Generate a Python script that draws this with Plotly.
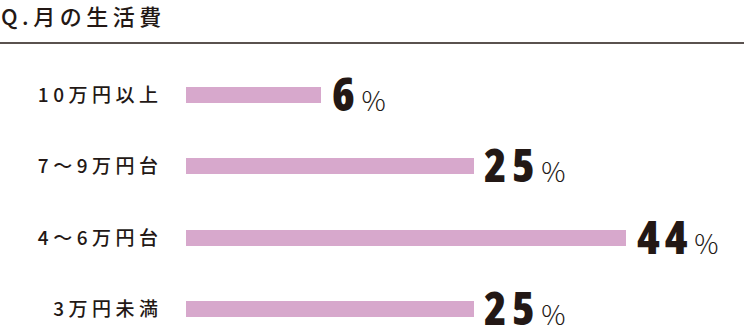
import plotly.graph_objects as go

# Data
categories = ["10万円以上", "7〜9万円台", "4〜6万円台", "3万円未満"]
values = [6, 25, 44, 25]
title_text = "Q.月の生活費"

# Style constants
AXIS_START = -10.86          # value where the bars begin (axis origin in the source)
AXIS_END = 58.72
BAR_COLOR = "#d7a8cc"
INK = "#231815"
W, H = 744, 329

fig = go.Figure()
fig.add_trace(go.Bar(
    y=categories,
    x=[v - AXIS_START for v in values],
    base=AXIS_START,
    orientation="h",
    marker=dict(color=BAR_COLOR, line=dict(width=0)),
    width=0.224,
    hoverinfo="skip",
))

for c, v in zip(categories, values):
    fig.add_annotation(
        x=v, y=c, xref="x", yref="y",
        xanchor="left", yanchor="middle",
        xshift=9, yshift=2,
        showarrow=False,
        text=(f"<span style='font-family:\"Open Sans\";font-stretch:75%;"
              f"font-weight:800;font-size:46px;letter-spacing:5px'>{v}</span>"
              f"<span style='font-family:\"Noto Sans CJK JP\";font-weight:300;font-size:27px'>&#8202;%</span>"),
        font=dict(color=INK, family="Noto Sans CJK JP"),
    )

fig.add_shape(type="line", xref="paper", yref="paper",
              x0=0, x1=1, y0=(H - 43) / (H - 50), y1=(H - 43) / (H - 50),
              line=dict(color=INK, width=1.6))

fig.update_layout(
    width=W, height=H,
    margin=dict(l=0, r=0, t=50, b=0),
    paper_bgcolor="white", plot_bgcolor="white",
    showlegend=False,
    bargap=0,
    title=dict(
        text=f"<span style='letter-spacing:4.5px'>{title_text}</span>",
        x=0, xref="paper", xanchor="left",
        y=1 - 17 / H, yref="container", yanchor="middle",
        font=dict(family="Noto Sans CJK JP", size=22, color=INK, weight=500),
        pad=dict(l=1),
    ),
    xaxis=dict(
        domain=[185.5 / W, 1],
        range=[AXIS_START, AXIS_END],
        visible=False, fixedrange=True,
    ),
    yaxis=dict(
        categoryorder="array", categoryarray=categories,
        range=[3.273, -0.629],
        showgrid=False, zeroline=False, showline=False,
        ticks="", ticklabelstandoff=22,
        tickfont=dict(family="Noto Sans CJK JP", size=19, color=INK, weight=500),
        tickmode="array", tickvals=categories,
        ticktext=[f"<span style='letter-spacing:4.5px'>{c}</span>" for c in categories],
        fixedrange=True,
    ),
)
fig.update_yaxes(anchor="x")

fig.write_html("out.html")
